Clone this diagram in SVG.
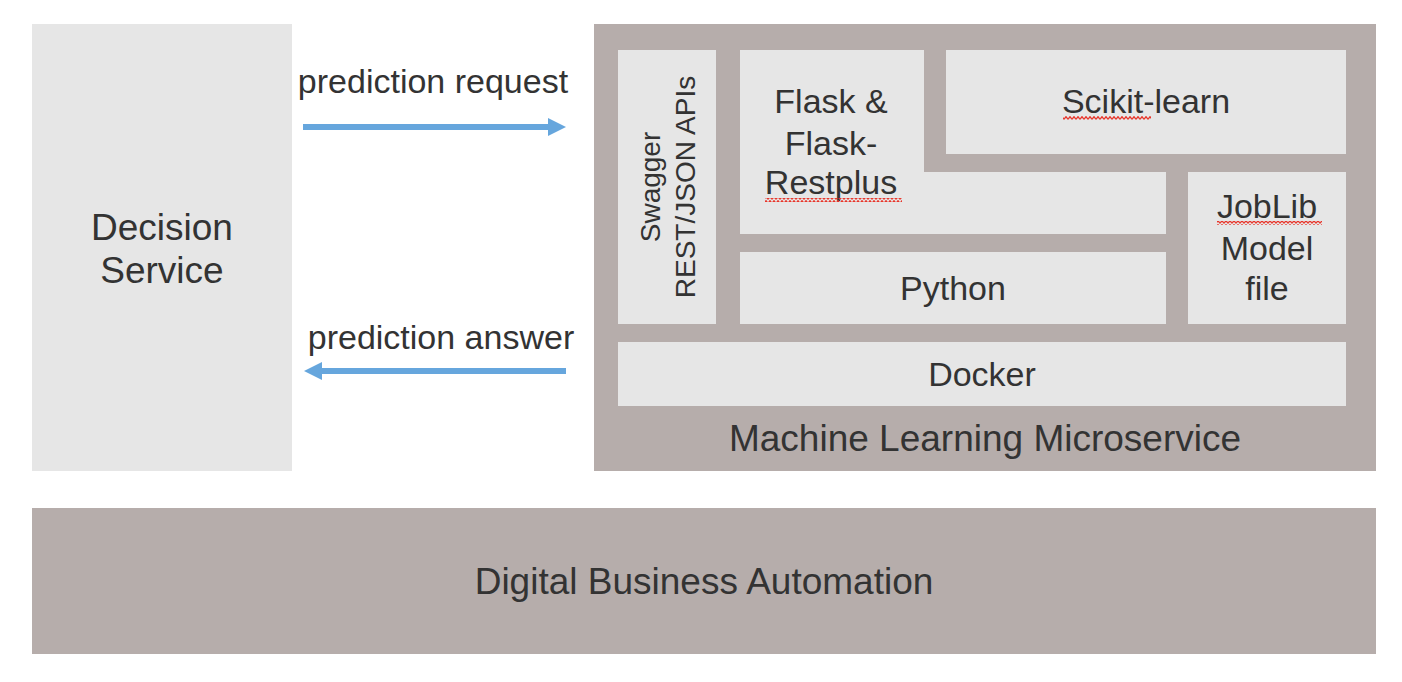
<svg xmlns="http://www.w3.org/2000/svg" width="1402" height="682" viewBox="0 0 1402 682">
<style>
.light{fill:#e6e6e6}
.dark{fill:#b6adab}
text{font-family:"Liberation Sans",Arial,Helvetica,sans-serif;fill:#333333;text-anchor:middle}
.t33{font-size:34px}
.t36{font-size:37px}
.t28{font-size:28px}
.conn{stroke:#66a6dd;stroke-width:6;fill:none}
</style>
<defs>
<marker id="ah" markerUnits="userSpaceOnUse" markerWidth="18" markerHeight="18" refX="1" refY="9" orient="auto">
<path d="M0,0 L18,9 L0,18 z" fill="#66a6dd"/>
</marker>
<pattern id="sq" patternUnits="userSpaceOnUse" width="4" height="4" x="0" y="0">
<path d="M0,3.3 L2,0.7 L4,3.3" stroke="#e8352a" stroke-width="1.3" fill="none"/>
</pattern>
</defs>
<rect width="1402" height="682" fill="#ffffff"/>

<g id="decision-service">
<rect class="light" x="32" y="24" width="260" height="447"/>
<text class="t36" x="162" y="240">Decision</text>
<text class="t36" x="162" y="283">Service</text>
</g>

<g id="ml-microservice">
<rect class="dark" x="594" y="24" width="782" height="447"/>
<text class="t36" x="985" y="451">Machine Learning Microservice</text>
</g>

<g id="swagger">
<rect class="light" x="618" y="50" width="98" height="274"/>
<text class="t28" transform="translate(660,187) rotate(-90)">Swagger</text>
<text class="t28" transform="translate(695,187) rotate(-90)">REST/JSON APIs</text>
</g>

<g id="flask">
<path class="light" d="M740,50 H924 V172 H1166 V234 H740 Z"/>
<text class="t33" x="831" y="113">Flask &amp;</text>
<text class="t33" x="831" y="155">Flask-</text>
<text class="t33" x="831" y="194">Restplus</text>
<rect x="765" y="198" width="137" height="4" fill="url(#sq)"/>
</g>

<g id="scikit-learn">
<rect class="light" x="946" y="50" width="400" height="104"/>
<text class="t33" x="1146" y="113">Scikit-learn</text>
<rect x="1063" y="116" width="88" height="4" fill="url(#sq)"/>
</g>

<g id="joblib">
<rect class="light" x="1188" y="172" width="158" height="152"/>
<text class="t33" x="1267" y="218">JobLib</text>
<text class="t33" x="1267" y="260">Model</text>
<text class="t33" x="1267" y="300">file</text>
<rect x="1217" y="221" width="105" height="4" fill="url(#sq)"/>
</g>

<g id="python">
<rect class="light" x="740" y="252" width="426" height="72"/>
<text class="t33" x="953" y="300">Python</text>
</g>

<g id="docker">
<rect class="light" x="618" y="342" width="728" height="64"/>
<text class="t33" x="982" y="386">Docker</text>
</g>

<g id="dba">
<rect class="dark" x="32" y="508" width="1344" height="146"/>
<text class="t36" x="704" y="594">Digital Business Automation</text>
</g>

<g id="connectors">
<line class="conn" x1="303" y1="127" x2="549" y2="127" marker-end="url(#ah)"/>
<text class="t33" x="433" y="93">prediction request</text>
<line class="conn" x1="566" y1="371" x2="321" y2="371" marker-end="url(#ah)"/>
<text class="t33" x="441" y="349">prediction answer</text>
</g>
</svg>
